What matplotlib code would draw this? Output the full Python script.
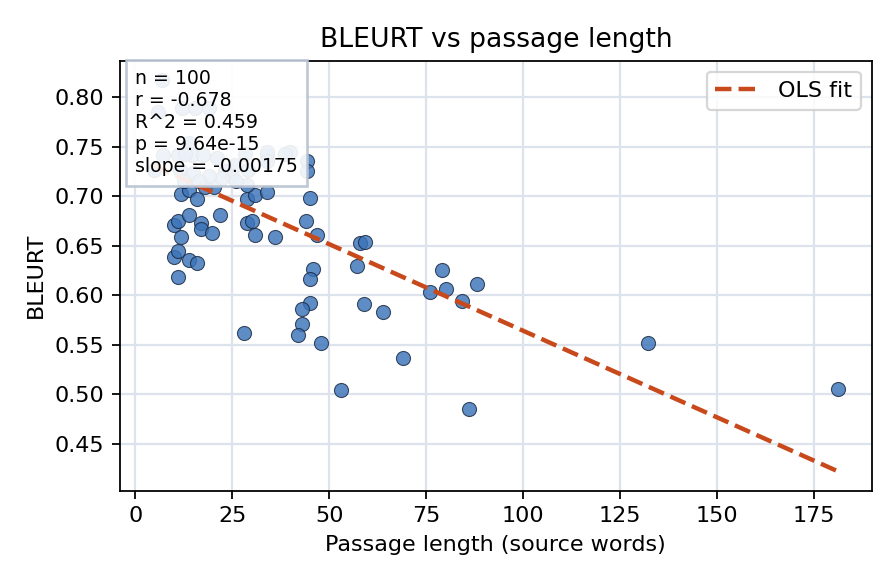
import numpy as np
import matplotlib
matplotlib.use("Agg")
import matplotlib.pyplot as plt

# passage length (source words) and BLEURT score per item
passage_len = [
    10.0, 11.1, 11.1, 13.9, 16.0, 11.8, 10.1, 11.1, 13.9, 17.0,
    17.0, 19.8, 21.9, 11.8, 13.9, 16.0, 18.0, 20.2, 28.8, 30.0,
    30.9, 36.1, 28.8, 30.9, 34.0, 28.8, 45.0, 44.0, 46.9, 57.9,
    59.2, 57.1, 45.9, 45.0, 45.0, 43.0, 43.0, 42.0, 47.8, 59.0,
    63.9, 69.1, 53.0, 79.1, 75.9, 80.1, 84.1, 88.1, 86.0, 132.1,
    181.0, 28.1, 44.4, 44.4,
    7.0, 6.0, 12.0, 15.5, 19.0, 14.0, 7.3, 11.1, 14.6, 17.6,
    21.0, 25.7, 28.3, 33.9, 39.9, 11.6, 4.9, 15.0, 23.2, 29.2,
    24.9, 38.6, 12.9, 22.5, 26.0, 19.0, 12.5, 16.5, 34.0, 34.0,
]
bleurt = [
    0.639, 0.645, 0.618, 0.635, 0.632, 0.659, 0.671, 0.675, 0.681, 0.673,
    0.667, 0.663, 0.681, 0.702, 0.706, 0.697, 0.709, 0.709, 0.673, 0.675,
    0.661, 0.659, 0.697, 0.701, 0.704, 0.711, 0.698, 0.675, 0.661, 0.653,
    0.654, 0.629, 0.626, 0.616, 0.592, 0.586, 0.571, 0.560, 0.552, 0.591,
    0.583, 0.537, 0.504, 0.625, 0.603, 0.606, 0.594, 0.611, 0.485, 0.552,
    0.505, 0.562, 0.735, 0.725,
    0.817, 0.785, 0.789, 0.789, 0.789, 0.754, 0.742, 0.742, 0.742, 0.742,
    0.738, 0.731, 0.743, 0.742, 0.745, 0.726, 0.726, 0.723, 0.725, 0.726,
    0.720, 0.743, 0.743, 0.718, 0.715, 0.720, 0.715, 0.715, 0.745, 0.735,
]

# regression summary as printed on the chart
n_items = 100
r_val = -0.678
r2_val = 0.459
p_val = 9.64e-15
slope = -0.00175
intercept = 0.739

x = np.asarray(passage_len)
y = np.asarray(bleurt)

fig = plt.figure(figsize=(5.6, 3.65), dpi=160)
ax = fig.add_axes([120 / 896, (584 - 490.7) / 584, 751.7 / 896, 430 / 584])

ax.scatter(x, y, s=40, color="#3b73b9", alpha=0.82,
           edgecolor="#1b2a44", linewidth=0.5, zorder=3)

xs = np.array([x.min(), x.max()])
ax.plot(xs, intercept + slope * xs, "--", color="#c8491b", lw=2,
        label="OLS fit", zorder=4)

stats = (f"n = {n_items}\nr = {r_val:.3f}\nR^2 = {r2_val:.3f}\n"
         f"p = {p_val:.2e}\nslope = {slope:.5f}")
ax.text(0.02, 0.98, stats, transform=ax.transAxes, va="top", ha="left",
        fontsize=8.5, zorder=5,
        bbox=dict(boxstyle="square,pad=0.5", facecolor="white",
                  edgecolor="#b8c3d1", alpha=0.9, linewidth=1.2))

ax.set_title("BLEURT vs passage length", fontsize=12)
ax.set_xlabel("Passage length (source words)", fontsize=10)
ax.set_ylabel("BLEURT", fontsize=10)
ax.grid(True, color="#dde3ec", linewidth=1)
ax.set_axisbelow(True)
ax.legend(loc="upper right", fontsize=10)

fig.savefig("out.png", dpi=160)
